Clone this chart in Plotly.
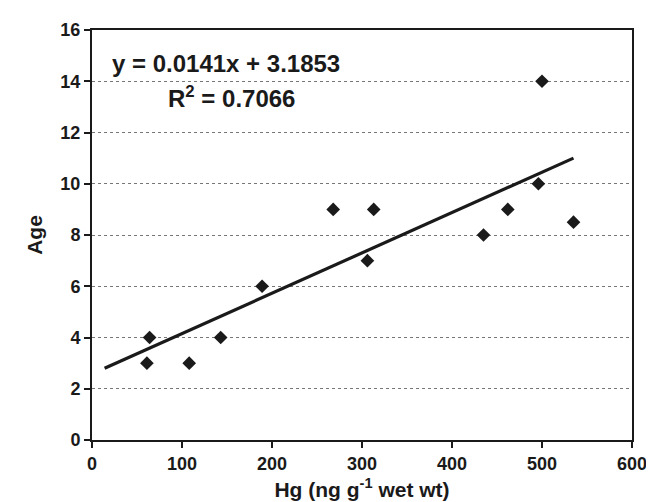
import plotly.graph_objects as go

hg = [61, 64, 108, 143, 189, 268, 306, 313, 435, 462, 496, 500, 535]
age = [3, 4, 3, 4, 6, 9, 7, 9, 8, 9, 10, 14, 8.5]

trend_x = [14, 535]
trend_y = [2.8, 11.0]

x_ticks = [0, 100, 200, 300, 400, 500, 600]
y_ticks = [0, 2, 4, 6, 8, 10, 12, 14, 16]

FONT = "Liberation Sans, Arial, sans-serif"
INK = "#1a1a1a"

fig = go.Figure()
fig.add_trace(go.Scatter(x=trend_x, y=trend_y, mode="lines",
                         line=dict(color=INK, width=3.2), showlegend=False))
fig.add_trace(go.Scatter(x=hg, y=age, mode="markers",
                         marker=dict(symbol="diamond", size=10.5, color=INK),
                         showlegend=False))

fig.add_annotation(x=0.033, y=0.919, xref="paper", yref="paper",
                   xanchor="left", yanchor="middle", showarrow=False,
                   text="<b>y = 0.0141x + 3.1853</b>",
                   font=dict(family=FONT, size=24, color=INK))
fig.add_annotation(x=0.259, y=0.836, xref="paper", yref="paper",
                   xanchor="center", yanchor="middle", showarrow=False,
                   text="<b>R<sup>2</sup> = 0.7066</b>",
                   font=dict(family=FONT, size=24, color=INK))

fig.update_layout(
    width=654, height=502,
    margin=dict(l=84, r=30, t=15, b=67),
    paper_bgcolor="white", plot_bgcolor="white",
    font=dict(family=FONT, color=INK),
    xaxis=dict(range=[0, 600], tickvals=x_ticks, ticktext=[f"<b>{v}</b>" for v in x_ticks],
               showgrid=False, zeroline=False, showline=True, linecolor=INK, linewidth=2,
               mirror=True, ticks="outside", ticklen=6, tickcolor=INK, tickwidth=1.5,
               tickfont=dict(family=FONT, size=18, color=INK),
               title=dict(text="<b>Hg (ng g<sup>-1</sup> wet wt)</b>", standoff=10,
                          font=dict(family=FONT, size=21, color=INK))),
    yaxis=dict(range=[0, 16], tickvals=y_ticks, ticktext=[f"<b>{v}</b>" for v in y_ticks],
               showgrid=True, gridcolor="#777777", griddash="dot", gridwidth=1,
               zeroline=False, showline=True, linecolor=INK, linewidth=2,
               mirror=True, ticks="outside", ticklen=6, tickcolor=INK, tickwidth=1.5,
               tickfont=dict(family=FONT, size=18, color=INK),
               title=dict(text="<b>Age</b>", standoff=12,
                          font=dict(family=FONT, size=21, color=INK))),
)

fig.write_html("out.html")
